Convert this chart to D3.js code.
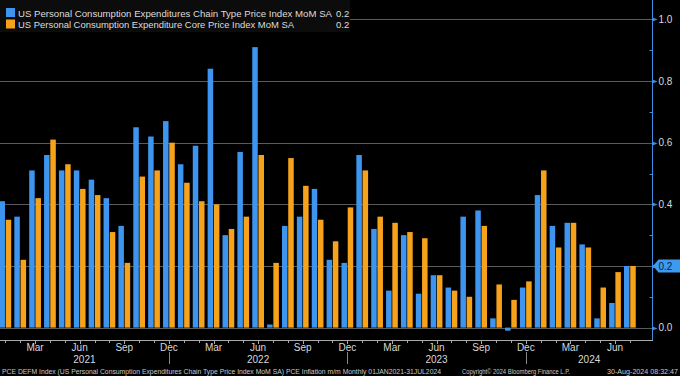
<!DOCTYPE html>
<html>
<head>
<meta charset="utf-8">
<script src="https://cdn.jsdelivr.net/npm/d3@7"></script>
<style>
  html, body { margin: 0; padding: 0; background: #000; }
  svg { display: block; font-family: "Liberation Sans", Arial, sans-serif; }
</style>
</head>
<body>
<div id="chart"></div>
<script>
const MONTHS = [
  "2021-01","2021-02","2021-03","2021-04","2021-05","2021-06","2021-07","2021-08","2021-09","2021-10","2021-11","2021-12",
  "2022-01","2022-02","2022-03","2022-04","2022-05","2022-06","2022-07","2022-08","2022-09","2022-10","2022-11","2022-12",
  "2023-01","2023-02","2023-03","2023-04","2023-05","2023-06","2023-07","2023-08","2023-09","2023-10","2023-11","2023-12",
  "2024-01","2024-02","2024-03","2024-04","2024-05","2024-06","2024-07"
];
const PCE = [
  0.41, 0.36, 0.51, 0.56, 0.51, 0.51, 0.48, 0.42, 0.33, 0.65, 0.62, 0.67,
  0.53, 0.59, 0.84, 0.30, 0.57, 0.91, 0.01, 0.33, 0.36, 0.45, 0.22, 0.21,
  0.56, 0.32, 0.12, 0.30, 0.11, 0.17, 0.13, 0.36, 0.38, 0.03, -0.01, 0.13,
  0.43, 0.33, 0.34, 0.27, 0.03, 0.08, 0.20
];
const CORE = [
  0.35, 0.22, 0.42, 0.61, 0.53, 0.45, 0.43, 0.31, 0.21, 0.49, 0.51, 0.60,
  0.47, 0.41, 0.40, 0.32, 0.36, 0.56, 0.21, 0.55, 0.46, 0.35, 0.28, 0.39,
  0.51, 0.36, 0.34, 0.31, 0.29, 0.17, 0.12, 0.10, 0.33, 0.14, 0.09, 0.15,
  0.51, 0.26, 0.34, 0.26, 0.13, 0.18, 0.20
];
const Y_TICKS = [0.0, 0.2, 0.4, 0.6, 0.8, 1.0];
const MONTH_LABELS = { "03": "Mar", "06": "Jun", "09": "Sep", "12": "Dec" };
const SERIES = [
  { key: "pce",  name: "US Personal Consumption Expenditures Chain Type Price Index MoM SA", values: PCE,  color: "#3d95ef" },
  { key: "core", name: "US Personal Consumption Expenditure Core Price Index MoM SA",       values: CORE, color: "#f7a21b" }
];
const LAST_VALUE = "0.2";

const W = 680, H = 376;
const plotR = 652.5, axisY = 340;

const svg = d3.select("#chart").append("svg")
  .attr("width", W).attr("height", H);
svg.append("rect").attr("width", W).attr("height", H).attr("fill", "#000");

const step = 14.87, x0 = -2.1;
const x = d3.scaleBand().domain(MONTHS).range([x0, x0 + step * MONTHS.length]);
const xs = d3.scaleBand().domain(SERIES.map(s => s.key))
  .range([0, x.bandwidth()]).paddingInner(0.12).paddingOuter(0.25);
const y = d3.scaleLinear().domain([0, 1]).range([327.6, 19.4]);
const cx = m => x(m) + x.bandwidth() / 2;

// grid
svg.append("g").selectAll("line").data(Y_TICKS).join("line")
  .attr("x1", 0).attr("x2", plotR)
  .attr("y1", d => Math.round(y(d)) + 0.5).attr("y2", d => Math.round(y(d)) + 0.5)
  .attr("stroke", "#5a5a5a").attr("stroke-width", 1);

// bars
const rows = MONTHS.map((m, i) => ({ m, vals: SERIES.map(s => ({ key: s.key, v: s.values[i], color: s.color })) }));
svg.append("g").selectAll("g").data(rows).join("g")
  .attr("transform", d => `translate(${x(d.m)},0)`)
  .selectAll("rect").data(d => d.vals).join("rect")
  .attr("x", d => xs(d.key))
  .attr("width", xs.bandwidth())
  .attr("y", d => y(Math.max(0, d.v)))
  .attr("height", d => Math.abs(y(d.v) - y(0)))
  .attr("fill", d => d.color);

// x axis
svg.append("line").attr("x1", 0).attr("x2", plotR + 0.5)
  .attr("y1", axisY + 0.5).attr("y2", axisY + 0.5).attr("stroke", "#aaa");
svg.append("g").selectAll("line").data(MONTHS).join("line")
  .attr("x1", d => Math.round(cx(d)) + 0.5).attr("x2", d => Math.round(cx(d)) + 0.5)
  .attr("y1", axisY).attr("y2", d => MONTH_LABELS[d.slice(5)] ? axisY + 4 : axisY + 3)
  .attr("stroke", "#aaa");
svg.append("line").attr("x1", plotR).attr("x2", plotR)
  .attr("y1", axisY - 3).attr("y2", axisY + 0.5).attr("stroke", "#aaa");

svg.append("g").selectAll("text").data(MONTHS.filter(m => MONTH_LABELS[m.slice(5)])).join("text")
  .attr("x", d => cx(d)).attr("y", 351)
  .attr("text-anchor", "middle").attr("font-size", 10).attr("fill", "#d8d8d8")
  .text(d => MONTH_LABELS[d.slice(5)]);

// year separators at Dec, year labels centred between them
const decs = MONTHS.filter(m => m.slice(5) === "12").map(cx);
svg.append("g").selectAll("line").data(decs).join("line")
  .attr("x1", d => Math.round(d) + 0.5).attr("x2", d => Math.round(d) + 0.5)
  .attr("y1", 352).attr("y2", 364).attr("stroke", "#888");
const bounds = [0, ...decs, plotR];
const years = ["2021", "2022", "2023", "2024"];
svg.append("g").selectAll("text").data(years).join("text")
  .attr("x", (d, i) => (bounds[i] + bounds[i + 1]) / 2).attr("y", 362.5)
  .attr("text-anchor", "middle").attr("font-size", 10).attr("fill", "#d8d8d8")
  .text(d => d);

// right axis
const axisBlue = "#3d8ee2";
svg.append("line").attr("x1", plotR).attr("x2", plotR)
  .attr("y1", 0).attr("y2", axisY).attr("stroke", axisBlue);
const minor = d3.range(1, 10, 2).map(d => d / 10);
svg.append("g").selectAll("line").data(minor).join("line")
  .attr("x1", plotR - 3).attr("x2", plotR)
  .attr("y1", d => Math.round(y(d)) + 0.5).attr("y2", d => Math.round(y(d)) + 0.5)
  .attr("stroke", axisBlue);
svg.append("g").selectAll("path").data(Y_TICKS).join("path")
  .attr("d", d => { const yy = Math.round(y(d)) + 0.5; return `M${plotR},${yy - 2}L${plotR + 5},${yy}L${plotR},${yy + 2}Z`; })
  .attr("fill", axisBlue);
svg.append("g").selectAll("text").data(Y_TICKS).join("text")
  .attr("x", 658.5).attr("y", d => y(d) + 3.6)
  .attr("font-size", 10).attr("fill", "#d8d8d8")
  .text(d => d3.format(".1f")(d));

// last value marker
const ly = y(+LAST_VALUE);
svg.append("path")
  .attr("d", `M${plotR + 0.5},${ly}L${plotR + 6},${ly - 6.5}L${W},${ly - 6.5}L${W},${ly + 6.5}L${plotR + 6},${ly + 6.5}Z`)
  .attr("fill", "#3d9af0");
svg.append("text").attr("x", 658.5).attr("y", ly + 3.6)
  .attr("font-size", 10).attr("fill", "#0b2440").text(LAST_VALUE);

// legend
svg.append("rect").attr("x", 0).attr("y", 0).attr("width", 350).attr("height", 32).attr("fill", "#0c0c0c");
const leg = svg.append("g").selectAll("g").data(SERIES).join("g")
  .attr("transform", (d, i) => `translate(0,${i * 11.5})`);
leg.append("rect").attr("x", 6).attr("y", 8).attr("width", 9).attr("height", 9).attr("fill", d => d.color);
leg.append("text").attr("x", 18).attr("y", 16.5)
  .attr("font-size", 9.5).attr("fill", "#dcdcdc")
  .attr("textLength", (d, i) => i === 0 ? 314 : 276).attr("lengthAdjust", "spacingAndGlyphs")
  .text(d => d.name);
leg.append("text").attr("x", 336).attr("y", 16.5)
  .attr("font-size", 9.5).attr("fill", "#dcdcdc")
  .text(LAST_VALUE);

// footer
const foot = [
  { t: "PCE DEFM Index (US Personal Consumption Expenditures Chain Type Price Index MoM SA) PCE Inflation m/m  Monthly 01JAN2021-31JUL2024", x: 2, len: 439 },
  { t: "Copyright\u00A9 2024 Bloomberg Finance L.P.", x: 462, len: 108 },
  { t: "30-Aug-2024 08:32:47", x: 607, len: 71 }
];
svg.append("g").selectAll("text").data(foot).join("text")
  .attr("x", d => d.x).attr("y", 373.5)
  .attr("font-size", 6.8).attr("fill", "#c8c8c8")
  .attr("textLength", d => d.len).attr("lengthAdjust", "spacingAndGlyphs")
  .text(d => d.t);
</script>
</body>
</html>
